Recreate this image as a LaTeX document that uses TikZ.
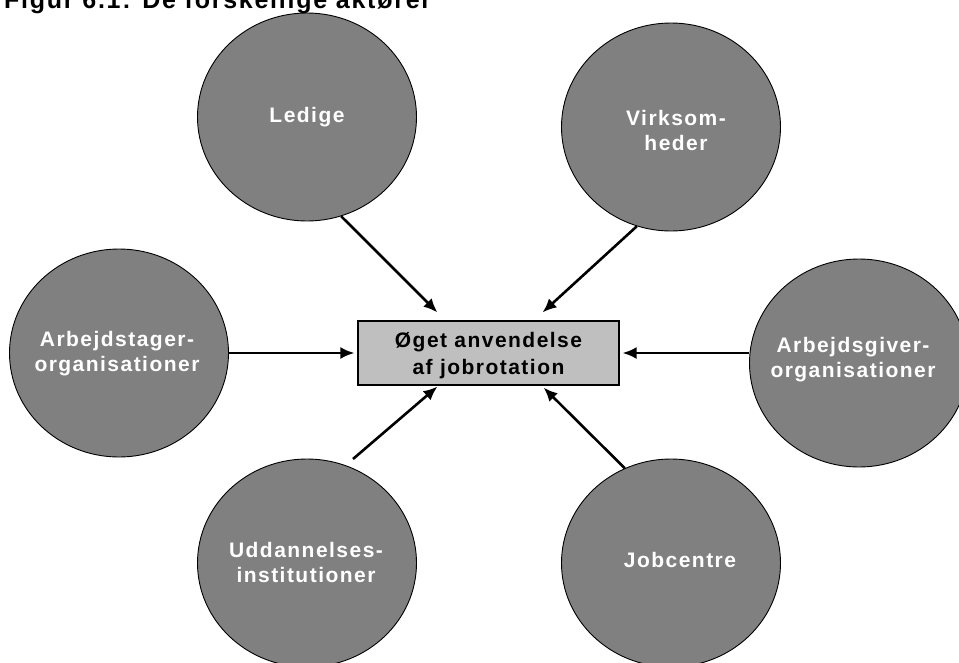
\documentclass[tikz,border=0pt]{standalone}
\usepackage{fontspec}
\setmainfont{Liberation Sans}[LetterSpace=7]
\usetikzlibrary{shapes.geometric,arrows.meta,calc}
\begin{document}
\begin{tikzpicture}[x=1pt,y=-1pt,
  actor/.style={ellipse, draw=black, line width=0.9pt, fill=black!50,
    minimum width=219pt, minimum height=208pt, inner sep=0pt},
  lbl/.style={text=white, font=\fontsize{21}{25}\selectfont\bfseries,
    align=center, inner sep=0pt},
  goal/.style={draw=black, line width=1.1pt, fill=black!25,
    minimum width=261pt, minimum height=64pt, inner sep=0pt},
  goallbl/.style={text=black, font=\fontsize{21}{27}\selectfont\bfseries,
    align=center, inner sep=0pt},
  arr/.style={line width=2.6pt, -{Latex[length=14pt,width=12pt]}},
]
\useasboundingbox (0,0) rectangle (959,662);

\node[anchor=base west, inner sep=0pt, font=\fontsize{25}{28}\selectfont\bfseries]
  (title) at (4,8) {Figur 6.1: De forskellige aktører};

\node[actor] (ledige) at (307,117) {};
\node[lbl] (ledigeT) at (307,117) {Ledige};

\node[actor] (virk) at (671,127) {};
\node[lbl] (virkT) at (676,130) {Virksom-\\heder};

\node[actor] (arbtager) at (119,353) {};
\node[lbl] (arbtagerT) at (117,354) {Arbejdstager-\\organisationer};

\node[actor] (arbgiver) at (859,363) {};
\node[lbl] (arbgiverT) at (853,360) {Arbejdsgiver-\\organisationer};

\node[actor] (udd) at (307,563) {};
\node[lbl] (uddT) at (306,562) {Uddannelses-\\institutioner};

\node[actor] (job) at (671,563) {};
\node[lbl] (jobT) at (680,560) {Jobcentre};

\node[goal] (goal) at (488.5,353) {};
\node[goallbl] (goalT) at (488.5,356) {Øget anvendelse\\af jobrotation};

\coordinate (uddstart) at (353,459);

\draw[arr] (ledige.-71) -- ($(goal.north west)+(80,-8)$);
\draw[arr] (virk.-109) -- ($(goal.north east)+(-77,-8)$);
\draw[arr] (arbtager.east) -- ($(goal.west)+(-3,0)$);
\draw[arr] (arbgiver.west |- goal.east) -- ($(goal.east)+(3,0)$);
\draw[arr] (uddstart) -- ($(goal.south west)+(80,1)$);
\draw[arr] (job.116) -- ($(goal.south east)+(-76,2)$);
\end{tikzpicture}
\end{document}
